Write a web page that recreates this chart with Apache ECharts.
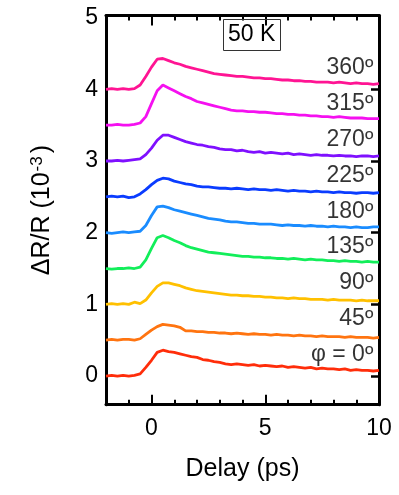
<!DOCTYPE html>
<html>
<head>
<meta charset="utf-8">
<script src="https://cdn.jsdelivr.net/npm/echarts@6/dist/echarts.min.js"></script>
<style>
html,body{margin:0;padding:0;background:#fff;}
#chart{width:399px;height:495px;}
</style>
</head>
<body>
<div id="chart"></div>
<script>
// Delay axis (ps)
const delays = [-2,-1.75,-1.5,-1.25,-1,-0.75,-0.5,-0.25,0,0.25,0.5,0.75,1,1.25,1.5,1.75,2,2.25,2.5,2.75,3,3.25,3.5,3.75,4,4.25,4.5,4.75,5,5.25,5.5,5.75,6,6.25,6.5,6.75,7,7.25,7.5,7.75,8,8.25,8.5,8.75,9,9.25,9.5,9.75,10];

// Polarization angle labels, vertical offsets and colours
const angleLabels = ['φ = 0º','45º','90º','135º','180º','225º','270º','315º','360º'];
const offsets = [0, 0.5, 1.0, 1.5, 2.0, 2.5, 3.0, 3.5, 4.0];
const colors = ['#ff2d0a','#ff7410','#ffc000','#12ee5a','#1a8cff','#0a3cff','#7f10ff','#f510f0','#ff1493'];

// ΔR/R signals (10^-3), relative to each trace's baseline
const s0   = [0.00,0.01,0.00,0.01,0.00,0.01,0.03,0.12,0.22,0.33,0.36,0.34,0.33,0.31,0.29,0.27,0.26,0.23,0.22,0.20,0.19,0.17,0.16,0.17,0.16,0.15,0.16,0.14,0.15,0.14,0.13,0.14,0.12,0.13,0.12,0.11,0.12,0.10,0.11,0.10,0.10,0.09,0.10,0.08,0.09,0.08,0.08,0.07,0.08];
const s45  = [0.00,0.01,0.00,0.01,0.01,0.00,0.02,0.08,0.14,0.19,0.22,0.21,0.20,0.18,0.13,0.13,0.12,0.12,0.11,0.11,0.10,0.10,0.09,0.10,0.09,0.08,0.09,0.08,0.08,0.07,0.08,0.07,0.07,0.06,0.07,0.06,0.06,0.05,0.06,0.05,0.05,0.05,0.04,0.05,0.04,0.04,0.04,0.03,0.04];
const s90  = [0.00,0.01,0.00,0.01,0.00,0.03,0.01,0.06,0.16,0.25,0.30,0.30,0.28,0.26,0.23,0.21,0.19,0.18,0.17,0.16,0.15,0.14,0.13,0.13,0.12,0.12,0.11,0.11,0.10,0.10,0.09,0.09,0.08,0.09,0.08,0.08,0.07,0.07,0.07,0.06,0.07,0.06,0.06,0.06,0.05,0.06,0.05,0.05,0.05];
const s135 = [0.00,-0.01,0.00,0.00,0.01,0.00,0.02,0.12,0.28,0.43,0.46,0.43,0.39,0.36,0.32,0.29,0.27,0.25,0.23,0.22,0.21,0.20,0.19,0.18,0.17,0.17,0.16,0.16,0.15,0.15,0.14,0.14,0.13,0.14,0.13,0.12,0.13,0.12,0.12,0.11,0.11,0.10,0.11,0.10,0.10,0.09,0.10,0.09,0.09];
const s180 = [0.00,-0.01,0.00,0.01,0.00,0.01,0.02,0.10,0.24,0.36,0.37,0.35,0.32,0.30,0.28,0.26,0.24,0.22,0.20,0.19,0.18,0.16,0.15,0.15,0.14,0.13,0.13,0.12,0.12,0.12,0.11,0.10,0.11,0.10,0.10,0.09,0.10,0.09,0.09,0.08,0.09,0.08,0.08,0.07,0.08,0.07,0.07,0.08,0.08];
const s225 = [0.00,0.01,0.00,0.01,-0.01,0.00,0.04,0.10,0.17,0.23,0.26,0.25,0.22,0.20,0.18,0.17,0.15,0.14,0.14,0.13,0.12,0.12,0.11,0.12,0.11,0.10,0.11,0.10,0.10,0.09,0.10,0.09,0.08,0.09,0.08,0.08,0.07,0.08,0.07,0.07,0.06,0.07,0.06,0.06,0.05,0.06,0.06,0.05,0.06];
const s270 = [0.00,0.00,0.01,0.00,0.01,0.02,0.03,0.09,0.18,0.29,0.36,0.36,0.33,0.30,0.27,0.25,0.23,0.22,0.20,0.19,0.17,0.16,0.16,0.14,0.15,0.13,0.12,0.13,0.11,0.12,0.11,0.10,0.11,0.09,0.10,0.09,0.08,0.09,0.08,0.08,0.07,0.08,0.07,0.07,0.06,0.07,0.07,0.06,0.07];
const s315 = [0.00,0.00,0.01,0.00,0.00,0.01,0.03,0.12,0.30,0.48,0.56,0.52,0.48,0.44,0.40,0.37,0.33,0.31,0.29,0.27,0.25,0.23,0.21,0.20,0.20,0.19,0.19,0.18,0.18,0.17,0.16,0.16,0.15,0.15,0.14,0.14,0.13,0.13,0.12,0.12,0.11,0.12,0.11,0.10,0.10,0.10,0.09,0.09,0.09];
const s360 = [0.00,0.01,0.00,0.01,0.00,0.01,0.06,0.18,0.31,0.42,0.43,0.40,0.37,0.35,0.32,0.30,0.28,0.26,0.24,0.22,0.21,0.20,0.19,0.18,0.18,0.17,0.16,0.16,0.15,0.15,0.14,0.13,0.13,0.12,0.12,0.11,0.11,0.10,0.10,0.10,0.09,0.10,0.09,0.08,0.09,0.08,0.08,0.07,0.08];
const signals = [s0, s45, s90, s135, s180, s225, s270, s315, s360];

// Tick labels
const xTickValues = [0, 5, 10];
const yTickValues = [0, 1, 2, 3, 4, 5];
const yRightTicks = [0, 1, 2, 3, 4];

const FONT = '"Liberation Sans", Arial, sans-serif';
const labelGap = 0.3;   // label sits just above each trace
const labelX = 9.75;

const chart = echarts.init(document.getElementById('chart'), null, {renderer: 'canvas'});

const series = [];
signals.forEach((sig, k) => {
  series.push({
    type: 'line',
    xAxisIndex: 0, yAxisIndex: 0,
    data: delays.map((d, i) => [d, sig[i] + offsets[k]]),
    showSymbol: false,
    silent: true,
    lineStyle: {color: colors[k], width: 2.8},
    z: 3
  });
});
series.push({
  type: 'scatter',
  xAxisIndex: 0, yAxisIndex: 0,
  symbolSize: 0,
  silent: true,
  data: angleLabels.map((t, k) => ({name: t, value: [labelX, offsets[k] + labelGap]})),
  label: {
    show: true, position: 'left', distance: 0,
    formatter: p => p.name,
    fontSize: 23, color: '#000', fontFamily: FONT
  },
  z: 4
});

const axisLineStyle = {color: '#000', width: 3};
const tickStyle = {color: '#000', width: 2};

chart.setOption({
  backgroundColor: '#fff',
  animation: false,
  title: {
    text: '50 K',
    left: 223, top: 19,
    borderColor: '#333', borderWidth: 1,
    padding: [4, 5, 4, 5],
    textStyle: {fontSize: 23, fontWeight: 'normal', color: '#000', fontFamily: FONT, lineHeight: 24}
  },
  grid: {left: 106, right: 20, top: 15.5, bottom: 90.3, containLabel: false},
  xAxis: [
    {
      type: 'value', min: -2, max: 10, position: 'bottom',
      axisLine: {show: true, onZero: false, lineStyle: axisLineStyle},
      axisTick: {show: true, inside: true, length: 10, lineStyle: tickStyle, customValues: xTickValues},
      axisLabel: {customValues: xTickValues, fontSize: 23, color: '#000', margin: 12, fontFamily: FONT},
      splitLine: {show: false},
      name: 'Delay (ps)', nameLocation: 'middle', nameGap: 52,
      nameTextStyle: {fontSize: 25, color: '#000', fontFamily: FONT}
    },
    {
      type: 'value', min: -2, max: 10, interval: 1, position: 'bottom',
      axisLine: {show: false, onZero: false},
      axisTick: {show: true, inside: true, length: 5, lineStyle: tickStyle},
      axisLabel: {show: false}, splitLine: {show: false}
    },
    {
      type: 'value', min: -2, max: 10, position: 'top',
      axisLine: {show: true, onZero: false, lineStyle: axisLineStyle},
      axisTick: {show: true, inside: true, length: 10, lineStyle: tickStyle, customValues: xTickValues},
      axisLabel: {show: false}, splitLine: {show: false}
    },
    {
      type: 'value', min: -2, max: 10, interval: 1, position: 'top',
      axisLine: {show: false, onZero: false},
      axisTick: {show: true, inside: true, length: 5, lineStyle: tickStyle},
      axisLabel: {show: false}, splitLine: {show: false}
    }
  ],
  yAxis: [
    {
      type: 'value', min: -0.4, max: 5.03, position: 'left',
      axisLine: {show: true, onZero: false, lineStyle: axisLineStyle},
      axisTick: {show: false},
      axisLabel: {customValues: yTickValues, fontSize: 23, color: '#000', margin: 8, fontFamily: FONT},
      splitLine: {show: false},
      name: 'ΔR/R (10{sup|-3})',
      nameLocation: 'middle', nameRotate: 90, nameGap: 50,
      nameTextStyle: {
        fontSize: 25, color: '#000', fontFamily: FONT,
        rich: {sup: {fontSize: 17, color: '#000', fontFamily: FONT, verticalAlign: 'top', padding: [0, 3, 10, 1]}}
      }
    },
    {
      type: 'value', min: -0.4, max: 5.03, position: 'right',
      axisLine: {show: true, onZero: false, lineStyle: axisLineStyle},
      axisTick: {show: true, inside: true, length: 8, lineStyle: {color: '#000', width: 2.5}, customValues: yRightTicks},
      axisLabel: {show: false}, splitLine: {show: false}
    }
  ],
  series: series
});
</script>
</body>
</html>
